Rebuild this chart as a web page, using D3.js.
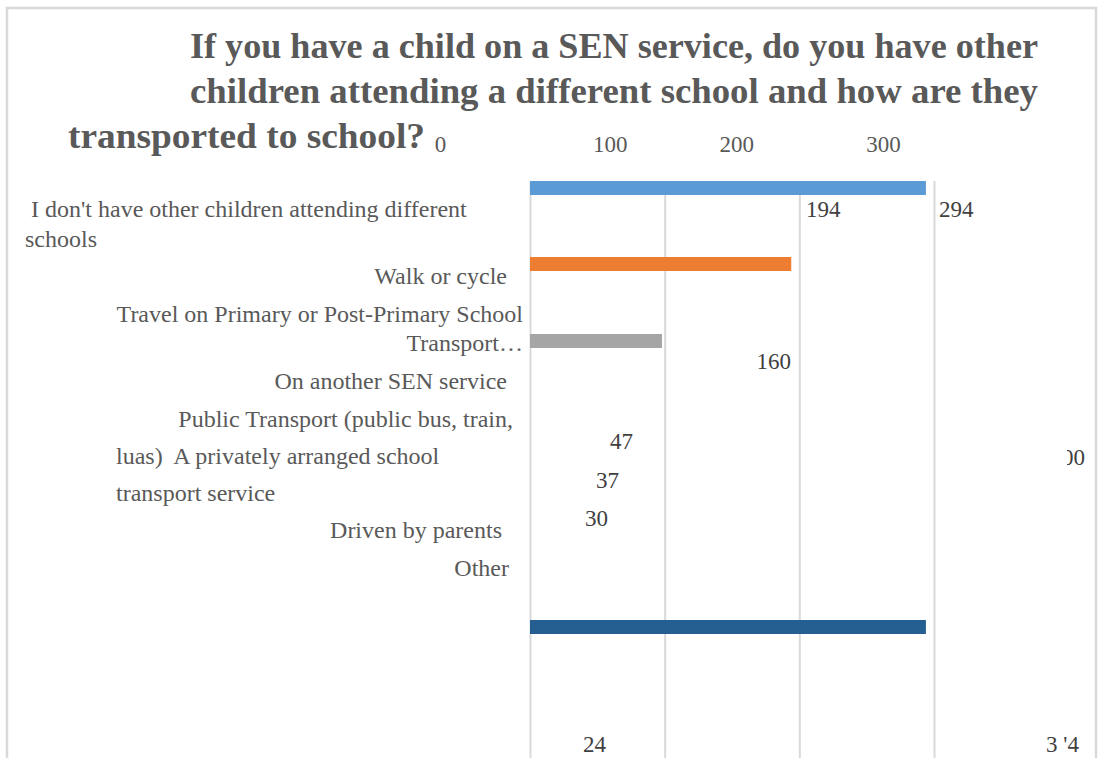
<!DOCTYPE html>
<html>
<head>
<meta charset="utf-8">
<script src="https://cdn.jsdelivr.net/npm/d3@7"></script>
<style>
  html, body { margin: 0; padding: 0; background: #fff; }
  svg { display: block; }
  text { font-family: "Liberation Serif", "Times New Roman", serif; white-space: pre; }
</style>
</head>
<body>
<svg id="chart" width="1099" height="758"></svg>
<script>
// ---- data ----
const titleLines = [
  "If you have a child on a SEN service, do you have other",
  "children attending a different school and how are they",
  "transported to school?"
];

const categoryLines = [
  " I don't have other children attending different",
  "schools",
  "Walk or cycle",
  "Travel on Primary or Post-Primary School",
  "Transport\u2026",
  "On another SEN service",
  "Public Transport (public bus, train,",
  "luas)  A privately arranged school",
  "transport service",
  "Driven by parents",
  "Other"
];

const barSeries = ["s1", "s2", "s3", "s4"];
const barValues = [294, 194, 98, 294];
const barColors = ["#5b9bd5", "#ed7d31", "#a5a5a5", "#255e91"];

const tickValues = [0, 100, 200, 300];
const tickLabels = ["0", "100", "200", "300"];

const valueLabels = ["194", "294", "160", "47", "37", "30", "24", "400", "3 '4"];

// ---- layout ----
const W = 1099, H = 758;
const svg = d3.select("#chart");

const x = d3.scaleLinear().domain([0, 300]).range([530, 934]);
const yBar = d3.scaleOrdinal().domain(barSeries).range([181, 257, 334, 620]);
const barH = 14;

// frame (open at the bottom edge)
svg.append("path")
  .attr("d", d3.line()([[7, H], [7, 8], [1096, 8], [1096, H]]))
  .attr("fill", "none")
  .attr("stroke", "#d9d9d9")
  .attr("stroke-width", 2.5);

// title
const titlePos = [
  { x: 190, y: 58, len: 848 },
  { x: 190, y: 103, len: 848 },
  { x: 68, y: 148, len: 357 }
];
svg.append("g").selectAll("text")
  .data(titleLines)
  .join("text")
  .attr("x", (d, i) => titlePos[i].x)
  .attr("y", (d, i) => titlePos[i].y)
  .attr("textLength", (d, i) => titlePos[i].len)
  .attr("lengthAdjust", "spacingAndGlyphs")
  .attr("font-size", 36)
  .attr("font-weight", "bold")
  .attr("fill", "#595959")
  .text(d => d);

// value axis: gridlines + tick labels
const tickShift = [-90, -55, -63, -51];
const axis = d3.axisTop(x)
  .tickValues(tickValues)
  .tickFormat((d, i) => tickLabels[i])
  .tickSize(-(H - 181 + 5))
  .tickPadding(0);

const ax = svg.append("g")
  .attr("transform", "translate(0,181)")
  .call(axis);
ax.select(".domain").remove();
ax.selectAll(".tick line")
  .attr("stroke", "#d9d9d9")
  .attr("stroke-width", 2);
ax.selectAll(".tick text")
  .attr("font-family", "Liberation Serif, serif")
  .attr("font-size", 23)
  .attr("fill", "#595959")
  .attr("y", -29)
  .attr("dx", (d, i) => tickShift[i]);

// bars
svg.append("g").selectAll("rect")
  .data(barValues)
  .join("rect")
  .attr("x", x(0))
  .attr("y", (d, i) => yBar(barSeries[i]))
  .attr("width", d => x(d) - x(0))
  .attr("height", barH)
  .attr("fill", (d, i) => barColors[i]);

// category labels
const catPos = [
  { x: 25, y: 217, anchor: "start" },
  { x: 25, y: 247, anchor: "start" },
  { x: 507, y: 284, anchor: "end" },
  { x: 523, y: 322, anchor: "end" },
  { x: 523, y: 351, anchor: "end" },
  { x: 507, y: 389, anchor: "end" },
  { x: 513, y: 427, anchor: "end" },
  { x: 116, y: 464, anchor: "start" },
  { x: 116, y: 501, anchor: "start" },
  { x: 502, y: 538, anchor: "end" },
  { x: 509, y: 576, anchor: "end" }
];
svg.append("g").selectAll("text")
  .data(categoryLines)
  .join("text")
  .attr("x", (d, i) => catPos[i].x)
  .attr("y", (d, i) => catPos[i].y)
  .attr("text-anchor", (d, i) => catPos[i].anchor)
  .attr("font-size", 24)
  .attr("fill", "#595959")
  .text(d => d);

// value labels
svg.append("defs").append("clipPath").attr("id", "edgeClip")
  .append("rect").attr("x", 1067).attr("y", 420).attr("width", 30).attr("height", 60);

const valPos = [
  { x: 806, y: 217, anchor: "start" },
  { x: 939, y: 217, anchor: "start" },
  { x: 791, y: 369, anchor: "end" },
  { x: 633, y: 449, anchor: "end" },
  { x: 619, y: 488, anchor: "end" },
  { x: 608, y: 526, anchor: "end" },
  { x: 606, y: 752, anchor: "end" },
  { x: 1085, y: 465, anchor: "end", clip: true },
  { x: 1079, y: 752, anchor: "end" }
];
svg.append("g").selectAll("text")
  .data(valueLabels)
  .join("text")
  .attr("x", (d, i) => valPos[i].x)
  .attr("y", (d, i) => valPos[i].y)
  .attr("text-anchor", (d, i) => valPos[i].anchor)
  .attr("clip-path", (d, i) => valPos[i].clip ? "url(#edgeClip)" : null)
  .attr("font-size", 23)
  .attr("fill", "#404040")
  .text(d => d);
</script>
</body>
</html>
